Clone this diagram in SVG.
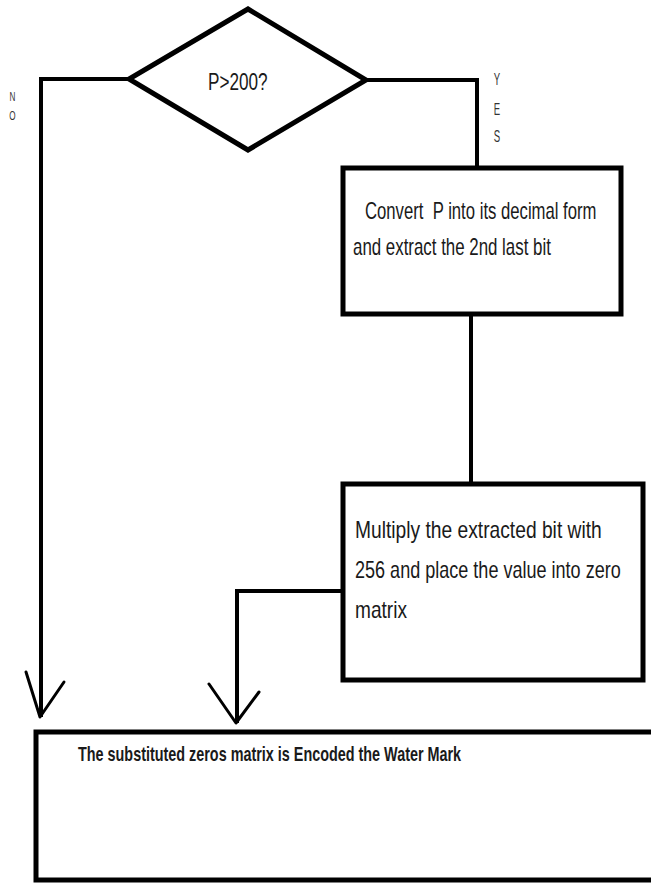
<svg xmlns="http://www.w3.org/2000/svg" width="651" height="884" viewBox="0 0 651 884">
  <style>
    .shape { fill: #ffffff; stroke: #000000; stroke-width: 5; stroke-linejoin: miter; }
    .wire { fill: none; stroke: #000000; stroke-width: 4; stroke-linejoin: miter; }
    .head { fill: none; stroke: #000000; stroke-width: 3; stroke-linecap: round; stroke-linejoin: round; }
    .label { font-family: "Liberation Sans", Arial, sans-serif; fill: #1a1a1a; }
    .letter { font-size: 16px; text-anchor: middle; fill: #333333; }
    .tiny { font-size: 12.5px; text-anchor: middle; fill: #333333; }
    .body { font-size: 23px; }
    .bold { font-size: 20px; font-weight: bold; }
  </style>
  <rect width="651" height="884" fill="#ffffff"/>

  <!-- connectors -->
  <g id="connectors">
    <path class="wire" d="M129,79 H41 V717"/>
    <polyline class="head" points="26,672 40,717 64,682"/>
    <path class="wire" d="M366,80 H477 V168"/>
    <path class="wire" d="M471,314 V484"/>
    <path class="wire" d="M343,591 H237 V723"/>
    <polyline class="head" points="209,684 236,723 259,692"/>
  </g>

  <!-- branch labels -->
  <g id="label-no">
    <text class="label tiny" transform="translate(12.5,101) scale(0.65,1)">N</text>
    <text class="label tiny" transform="translate(12.5,120) scale(0.65,1)">O</text>
  </g>
  <g id="label-yes">
    <text class="label letter" transform="translate(497,85) scale(0.6,1)">Y</text>
    <text class="label letter" transform="translate(497,115) scale(0.6,1)">E</text>
    <text class="label letter" transform="translate(497,142) scale(0.6,1)">S</text>
  </g>

  <!-- decision -->
  <g id="decision">
    <polygon class="shape" points="248,9 366,80 248,150 129,79"/>
    <text class="label" font-size="23.5" transform="translate(208,90) scale(0.73,1)">P&gt;200?</text>
  </g>

  <!-- convert step -->
  <g id="convert">
    <rect class="shape" x="343" y="168" width="278" height="146"/>
    <text class="label body" transform="translate(365,219) scale(0.726,1)" xml:space="preserve">Convert  P into its decimal form</text>
    <text class="label body" transform="translate(353,255) scale(0.734,1)">and extract the 2nd last bit</text>
  </g>

  <!-- multiply step -->
  <g id="multiply">
    <rect class="shape" x="343" y="484" width="300" height="196"/>
    <text class="label body" transform="translate(355,538) scale(0.836,1)">Multiply the extracted bit with</text>
    <text class="label body" transform="translate(355,578) scale(0.785,1)">256 and place the value into zero</text>
    <text class="label body" transform="translate(355,618) scale(0.83,1)">matrix</text>
  </g>

  <!-- result -->
  <g id="result">
    <rect class="shape" x="36" y="732" width="640" height="148"/>
    <text class="label bold" transform="translate(78,761) scale(0.72,1)">The substituted zeros matrix is Encoded the Water Mark</text>
  </g>
</svg>
